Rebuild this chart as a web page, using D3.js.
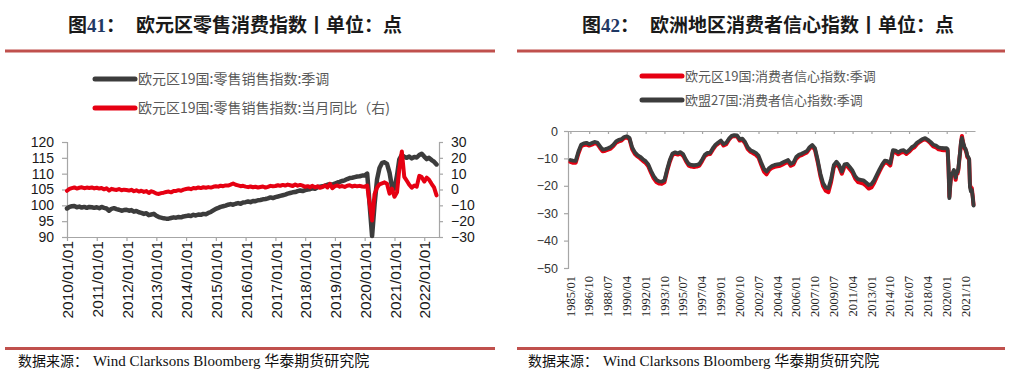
<!DOCTYPE html>
<html><head><meta charset="utf-8">
<script src="https://cdn.jsdelivr.net/npm/d3@7"></script>
<style>
html,body{margin:0;padding:0;background:#fff;}
svg{display:block;}
</style></head><body>
<svg id="c" width="1011" height="383"></svg>
<script>
// ---------------- Chart 41 data (monthly 2010/01 - 2022/06) ----------------
const retailStart = [2010, 0];
const retailIndex = [
  99.0, 99.5, 99.7, 99.8, 99.4, 99.6, 99.3, 99.5, 99.2, 99.5, 99.4, 99.2,
  99.4, 99.1, 99.5, 99.2, 99.0, 98.3, 98.9, 99.1, 98.8, 98.6, 98.3, 98.5,
  98.6, 98.3, 98.5, 98.0, 98.2, 97.8, 97.6, 97.3, 97.5, 96.9, 97.1, 97.3,
  96.7, 96.3, 96.1, 95.9, 95.8, 95.8, 96.0, 96.2, 96.1, 96.3, 96.2, 96.5,
  96.6, 96.8, 96.6, 97.0, 96.8, 97.1, 97.0, 97.3, 97.2, 97.6, 97.9, 98.4,
  98.9, 99.2, 99.5, 99.7, 99.9, 100.2, 100.4, 100.2, 100.5, 100.7, 100.5, 100.9,
  101.0, 101.2, 101.0, 101.4, 101.3, 101.6, 101.7, 101.9, 102.0, 102.2, 102.5, 102.3,
  102.6, 102.8, 103.0, 103.2, 103.4, 103.7, 103.9, 104.1, 104.2, 104.5, 104.7, 104.5,
  104.8, 105.0, 105.1, 105.4, 105.2, 105.7, 105.9, 106.0, 106.2, 106.5, 106.7, 106.5,
  106.9, 107.2, 107.4, 107.7, 107.9, 108.3, 108.6, 108.7, 108.9, 109.1, 109.2, 109.4,
  109.4, 110.0, 100.5, 90.3, 100.2, 108.2, 111.8, 113.4, 113.6, 113.1, 110.3, 105.8,
  105.3, 109.5, 114.5, 115.9, 115.3, 115.0, 115.4, 114.8, 115.3, 115.1, 115.9, 116.3,
  115.4, 114.6, 115.0, 114.3, 113.8, 112.9
];
const retailYoY = [
  -0.8, 0.4, 0.9, 1.3, 0.6, 1.1, 1.4, 0.8, 1.2, 1.0, 1.3, 0.7,
  1.1, 0.6, 0.9, 0.1, 0.8, -0.6, 0.4, 0.0, -0.3, 0.3, -0.5, -0.1,
  -0.3, -0.7, -0.2, -1.1, -0.5, -1.3, -0.8, -1.5, -1.0, -2.2, -1.1, -1.7,
  -2.5, -2.8, -2.3, -2.0, -1.6, -1.3, -1.8, -1.0, -0.9, -0.4, -0.8, -0.1,
  0.3, 0.6, 0.2, 1.0, 0.7, 1.3, 0.9, 1.4, 1.1, 1.5, 1.2, 1.7,
  2.1, 1.8, 2.4, 2.1, 2.6, 2.5, 3.1, 3.8, 3.0, 2.6, 2.1, 2.3,
  1.8, 1.5, 1.9, 1.4, 1.7, 1.3, 1.6, 1.9, 1.2, 1.7, 2.3, 2.0,
  2.2, 2.7, 2.3, 2.9, 2.5, 3.1, 2.7, 2.2, 3.2, 2.4, 2.9, 2.4,
  1.7, 2.1, 1.5, 2.3, 1.4, 2.0, 1.1, 1.6, 2.5, 1.3, 3.6, 0.8,
  2.1, 2.5, 1.8, 2.2, 1.6, 2.4, 2.7, 1.9, 2.4, 2.0, 2.3, 1.9,
  1.8, 2.5, -8.5, -19.6, -3.0, 1.2, 3.3, 3.9, 4.5, 3.6, -2.6, 0.5,
  -4.6, -1.8, 13.0, 24.0, 8.0, 5.5, 3.0, 1.2, 2.5, 1.8, 8.6, 7.8,
  5.0, 7.5, 6.2, 3.6, 1.4, -3.7
];
const retailLeftTicks = [90, 95, 100, 105, 110, 115, 120];
const retailRightTicks = [-30, -20, -10, 0, 10, 20, 30];
const retailYears = [2010, 2011, 2012, 2013, 2014, 2015, 2016, 2017, 2018, 2019, 2020, 2021, 2022];

// ---------------- Chart 42 data ----------------
// quarterly points 1985/01 - 2019/10, then monthly 2020/01 - 2022/07
const confQuarterStart = [1985, 0];
const confMonthStart = [2020, 0];
const eu27ConfQ = [
  -10.6, -10.8, -10.9, -7.5, -5.0, -4.5, -4.3, -4.8, -4.4, -4.0,
  -4.2, -5.5, -6.8, -6.6, -6.3, -5.8, -5.0, -3.8, -3.2, -3.0,
  -2.2, -1.9, -2.5, -6.0, -7.8, -8.8, -9.4, -10.3, -11.0, -12.2,
  -14.5, -16.5, -17.8, -18.4, -18.5, -18.0, -14.0, -10.6, -8.2, -7.8,
  -8.1, -7.7, -8.5, -10.5, -12.0, -12.4, -12.5, -12.4, -12.0, -10.5,
  -8.7, -8.0, -7.9, -6.3, -5.0, -4.2, -3.5, -4.8, -4.3, -2.8,
  -1.8, -1.5, -1.6, -3.0, -2.8, -4.0, -6.0, -7.0, -7.5, -8.0,
  -9.0, -11.5, -13.8, -14.8, -13.5, -12.8, -12.4, -12.2, -12.0, -11.5,
  -11.0, -10.6, -12.0, -11.5, -9.5, -8.7, -8.3, -7.8, -7.3, -5.9,
  -5.1, -6.3, -10.5, -15.5, -19.0, -20.6, -20.9, -17.5, -12.5, -11.2,
  -12.5, -14.8, -12.2, -12.0, -13.2, -14.5, -16.5, -17.6, -17.8, -18.0,
  -18.8, -19.7, -19.4, -18.0, -16.0, -14.0, -12.2, -10.8, -11.0, -11.8,
  -7.0, -7.2, -7.8, -7.2, -7.0, -7.8, -7.0, -5.9, -5.3, -4.2,
  -3.6, -2.9, -2.6, -3.2, -4.0, -5.0, -5.3, -6.0, -6.2, -6.3
];
const eu27ConfM = [
  -6.3, -6.6, -12.5, -24.5, -19.5, -15.8, -15.5, -15.0, -14.2, -15.6, -17.0, -14.8,
  -15.0, -13.5, -10.5, -7.5, -4.0, -2.5, -3.8, -5.0, -6.0, -6.5, -7.5, -9.0,
  -9.5, -10.2, -20.5, -22.0, -21.5, -24.0, -27.2
];
const ezConfQ = [
  -11.3, -11.6, -11.6, -8.2, -5.6, -5.1, -4.9, -5.3, -5.0, -4.5,
  -4.7, -6.1, -7.4, -7.2, -6.8, -6.4, -5.5, -4.3, -3.8, -3.5,
  -2.6, -2.3, -3.0, -6.7, -8.4, -9.3, -10.0, -10.9, -11.7, -12.9,
  -15.2, -17.3, -18.6, -19.2, -19.3, -18.7, -14.6, -11.2, -8.7, -8.3,
  -8.6, -8.2, -9.1, -11.0, -12.6, -13.0, -13.1, -13.0, -12.6, -11.0,
  -9.2, -8.5, -8.4, -6.8, -5.4, -4.6, -3.9, -5.3, -4.8, -3.2,
  -2.1, -1.8, -2.0, -3.5, -3.2, -4.5, -6.6, -7.6, -8.1, -8.7,
  -9.7, -12.3, -14.8, -15.8, -14.2, -13.5, -13.1, -12.9, -12.7, -12.2,
  -11.7, -11.2, -12.7, -12.2, -10.1, -9.2, -8.8, -8.3, -7.8, -6.4,
  -5.6, -6.9, -11.3, -16.4, -20.1, -21.8, -22.3, -18.6, -13.3, -11.9,
  -13.2, -15.6, -13.0, -12.8, -14.0, -15.3, -17.4, -18.6, -18.9, -19.2,
  -20.0, -21.0, -20.6, -19.0, -16.8, -14.7, -12.8, -11.4, -11.7, -12.6,
  -7.6, -7.8, -8.5, -7.9, -7.6, -8.4, -7.6, -6.5, -5.9, -4.7,
  -4.0, -3.3, -3.0, -3.6, -4.5, -5.6, -6.0, -6.7, -6.9, -7.0
];
const ezConfM = [
  -6.9, -7.2, -13.2, -24.0, -19.8, -16.3, -16.0, -15.4, -14.6, -16.1, -17.8, -15.3,
  -15.6, -14.1, -11.0, -7.8, -4.2, -1.8, -3.6, -5.4, -6.4, -6.9, -8.0, -9.5,
  -9.9, -10.4, -19.5, -21.0, -20.8, -23.5, -27.0
];
const confTicks = [0, -10, -20, -30, -40, -50];
const confTickLabels = ["1985/01","1986/10","1988/07","1990/04","1992/01","1993/10","1995/07",
  "1997/04","1999/01","2000/10","2002/07","2004/04","2006/01","2007/10","2009/07","2011/04",
  "2013/01","2014/10","2016/07","2018/04","2020/01","2021/10"];

// ---------------- common ----------------
const svg = d3.select("#c");
const cjk = "'Noto Sans CJK SC', 'Noto Sans CJK JP', sans-serif";
const sans = "'Liberation Sans', Arial, sans-serif";
const serif = "'Liberation Serif', 'Times New Roman', serif";
const ruleColor = "#c0504d";
const axisColor = "#a6a6a6";
const darkLine = "#3c3c3c";
const redLine = "#e60012";

function header(x0, x1, tx, num, title) {
  const t = svg.append("text").attr("x", tx).attr("y", 32)
    .attr("font-family", cjk).attr("font-weight", "bold").attr("font-size", 19).attr("fill", "#1a1a1a");
  t.append("tspan").text("图");
  t.append("tspan").attr("font-family", serif).attr("fill", "#1f3864").text(num);
  t.append("tspan").text("：");
  t.append("tspan").attr("dx", 11).text(title);
  svg.append("line").attr("x1", x0).attr("x2", x1).attr("y1", 51).attr("y2", 51)
    .attr("stroke", ruleColor).attr("stroke-width", 3);
  svg.append("line").attr("x1", x0).attr("x2", x1).attr("y1", 348.5).attr("y2", 348.5)
    .attr("stroke", ruleColor).attr("stroke-width", 3);
}
function footer(x) {
  const t = svg.append("text").attr("x", x).attr("y", 366).attr("fill", "#111").attr("font-size", 15);
  t.append("tspan").attr("font-family", cjk).attr("font-size", 14).text("数据来源：");
  t.append("tspan").attr("font-family", serif).attr("dx", 5).text("Wind Clarksons Bloomberg ");
  t.append("tspan").attr("font-family", cjk).text("华泰期货研究院");
}
function legendItem(x0, x1, y, color, label, fs) {
  svg.append("line").attr("x1", x0).attr("x2", x1).attr("y1", y).attr("y2", y)
    .attr("stroke", color).attr("stroke-width", 5).attr("stroke-linecap", "round");
  svg.append("text").attr("x", x1 + 3).attr("y", y).attr("dy", "0.36em")
    .attr("font-family", cjk).attr("font-size", fs).attr("fill", "#595959").text(label);
}
function styleAxis(g) {
  g.selectAll("path.domain").attr("stroke", axisColor).attr("stroke-width", 1.2);
  g.selectAll(".tick line").attr("stroke", axisColor).attr("stroke-width", 1.2);
}

// ================= Chart 41 =================
header(5, 495, 68, "41", "欧元区零售消费指数丨单位：点");
legendItem(95, 135, 79, darkLine, "欧元区19国:零售销售指数:季调", 14);
legendItem(95, 135, 108, redLine, "欧元区19国:零售销售指数:当月同比（右)", 14);

const retailDates = retailIndex.map((_, i) => new Date(retailStart[0], retailStart[1] + i, 1));
const xL = d3.scaleTime().domain([new Date(2010, 0, 1), new Date(2022, 6, 1)]).range([67, 439]);
const yL = d3.scaleLinear().domain([90, 120]).range([237, 142]);
const yR = d3.scaleLinear().domain([-30, 30]).range([237, 142]);

const gLA = svg.append("g").attr("transform", "translate(67,0)")
  .call(d3.axisLeft(yL).tickValues(retailLeftTicks).tickSize(5).tickPadding(8));
gLA.selectAll("text").attr("font-family", sans).attr("font-size", 14).attr("fill", "#1a1a1a");
styleAxis(gLA);
const gRA = svg.append("g").attr("transform", "translate(439,0)")
  .call(d3.axisRight(yR).tickValues(retailRightTicks).tickSize(4).tickPadding(8));
gRA.selectAll("text").attr("font-family", sans).attr("font-size", 14).attr("fill", "#1a1a1a");
styleAxis(gRA);
const gBA = svg.append("g").attr("transform", "translate(0,237)")
  .call(d3.axisBottom(xL).tickValues(retailYears.map(y => new Date(y, 0, 1))).tickSize(4).tickSizeOuter(0)
    .tickFormat(d3.timeFormat("%Y/%m/%d")));
gBA.selectAll("text").attr("font-family", sans).attr("font-size", 15.5).attr("fill", "#1a1a1a")
  .attr("text-anchor", "end").attr("x", 0).attr("y", 0).attr("dx", 0).attr("dy", "0.36em")
  .attr("transform", "translate(0,4) rotate(-90)");
styleAxis(gBA);

const lineIdx = d3.line().x((d, i) => xL(retailDates[i])).y(d => yL(d));
const lineYoY = d3.line().x((d, i) => xL(retailDates[i])).y(d => yR(d));
svg.append("path").datum(retailIndex).attr("d", lineIdx).attr("fill", "none")
  .attr("stroke", darkLine).attr("stroke-width", 4.5).attr("stroke-linejoin", "round").attr("stroke-linecap", "round");
svg.append("path").datum(retailYoY).attr("d", lineYoY).attr("fill", "none")
  .attr("stroke", redLine).attr("stroke-width", 4).attr("stroke-linejoin", "round").attr("stroke-linecap", "round");

footer(18);

// ================= Chart 42 =================
header(517, 1005, 582, "42", "欧洲地区消费者信心指数丨单位：点");
legendItem(642, 682, 76, redLine, "欧元区19国:消费者信心指数:季调", 13);
legendItem(642, 682, 100, darkLine, "欧盟27国:消费者信心指数:季调", 13);

const confDates = eu27ConfQ.map((_, i) => new Date(confQuarterStart[0], confQuarterStart[1] + i * 3, 1))
  .concat(eu27ConfM.map((_, i) => new Date(confMonthStart[0], confMonthStart[1] + i, 1)));
const eu27 = eu27ConfQ.concat(eu27ConfM);
const ez = ezConfQ.concat(ezConfM);

const parseYM = d3.timeParse("%Y/%m");
const xC = d3.scaleTime().domain([new Date(1984, 9, 12), new Date(2022, 7, 19)]).range([568, 975]);
const yC = d3.scaleLinear().domain([-50, 0]).range([268, 131]);

const gCY = svg.append("g").attr("transform", "translate(568,0)")
  .call(d3.axisLeft(yC).tickValues(confTicks).tickSize(4).tickPadding(6).tickFormat(d3.format("d")));
gCY.selectAll("text").attr("font-family", sans).attr("font-size", 12.5).attr("fill", "#333");
styleAxis(gCY);
const gCX = svg.append("g").attr("transform", `translate(0,${yC(0)})`)
  .call(d3.axisBottom(xC).tickValues(confTickLabels.map(parseYM)).tickSize(3).tickSizeOuter(0).tickFormat(""));
styleAxis(gCX);
svg.append("g").selectAll("text").data(confTickLabels).join("text")
  .attr("transform", d => `translate(${xC(parseYM(d))},276) rotate(-90)`)
  .attr("text-anchor", "end").attr("dy", "0.34em")
  .attr("font-family", serif).attr("font-size", 12.5).attr("fill", "#222").text(d => d);

const lineC = arr => d3.line().x((d, i) => xC(confDates[i])).y(d => yC(d))(arr);
svg.append("path").attr("d", lineC(ez)).attr("fill", "none")
  .attr("stroke", redLine).attr("stroke-width", 4).attr("stroke-linejoin", "round").attr("stroke-linecap", "round");
svg.append("path").attr("d", lineC(eu27)).attr("fill", "none")
  .attr("stroke", darkLine).attr("stroke-width", 3.8).attr("stroke-linejoin", "round").attr("stroke-linecap", "round");

footer(528);
</script></body></html>
